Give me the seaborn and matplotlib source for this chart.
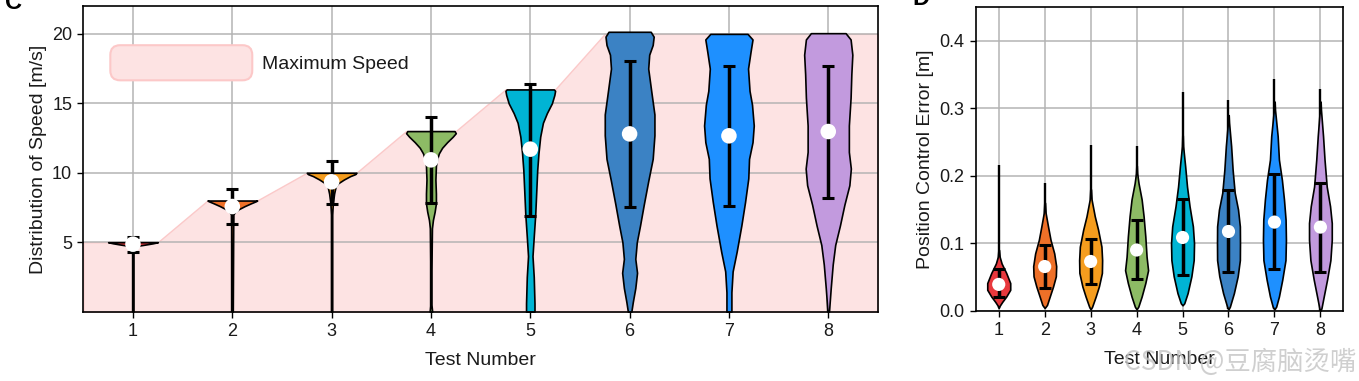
import matplotlib
matplotlib.use('Agg')
import matplotlib.pyplot as plt
import seaborn as sns
import numpy as np
from matplotlib.patches import Patch, FancyBboxPatch
from matplotlib.legend_handler import HandlerPatch

test_numbers = [1, 2, 3, 4, 5, 6, 7, 8]
violin_colors = ['#e8383d', '#ee7028', '#f59d1e', '#8dbb65',
                 '#00b4d4', '#3b82c4', '#1e90ff', '#c29ade']

# Panel C: speed distribution
max_speed = [5, 8, 10, 13, 16, 20, 20, 20]
speed_mean = [4.86, 7.57, 9.35, 10.93, 11.7, 12.8, 12.66, 12.97]
speed_upper = [5.38, 8.82, 10.84, 14.05, 16.4, 18.02, 17.71, 17.66]
speed_lower = [4.28, 6.34, 7.78, 7.81, 6.92, 7.52, 7.61, 8.21]
# density profiles (level, relative width)
speed_levels = [
    [0.0, 4.5, 4.65, 4.76, 4.83, 4.92, 4.98, 5.0],
    [0.0, 7.0, 7.2, 7.37, 7.6, 7.8, 7.95, 8.0],
    [0.0, 7.0, 7.8, 8.5, 9.0, 9.23, 9.52, 9.76, 9.9, 10.0],
    [0.0, 0.5, 3.0, 6.0, 6.6, 7.2, 7.8, 8.5, 9.5, 10.5, 11.0, 11.4, 11.8, 12.2, 12.6, 12.85, 13.0],
    [0.0, 0.6, 2.5, 4.0, 5.4, 7.0, 9.0, 10.2, 11.4, 12.6, 13.6, 14.3, 15.0, 15.6, 15.9, 16.0],
    [0.0, 0.7, 1.7, 2.8, 3.8, 5.0, 6.2, 7.7, 9.4, 11.0, 12.7, 14.2, 15.9, 17.5, 18.5, 19.2, 19.8, 20.15],
    [0.0, 1.4, 2.9, 4.3, 6.2, 7.9, 9.6, 11.0, 12.2, 13.4, 14.9, 15.9, 17.5, 18.7, 19.6, 20.0],
    [0.0, 1.7, 3.4, 4.8, 6.2, 7.7, 9.1, 10.3, 11.5, 13.4, 15.4, 17.1, 18.5, 19.6, 20.05],
]
speed_widths = [
    [0.02, 0.02, 0.1, 0.25, 0.5, 0.8, 0.95, 1.0],
    [0.02, 0.04, 0.12, 0.25, 0.5, 0.75, 0.95, 1.0],
    [0.02, 0.02, 0.05, 0.1, 0.16, 0.25, 0.5, 0.75, 0.95, 1.0],
    [0.05, 0.02, 0.02, 0.04, 0.08, 0.15, 0.2, 0.2, 0.18, 0.2, 0.25, 0.32, 0.45, 0.65, 0.88, 1.0, 0.95],
    [0.17, 0.17, 0.14, 0.09, 0.14, 0.2, 0.25, 0.28, 0.33, 0.4, 0.51, 0.67, 0.87, 0.97, 1.0, 0.95],
    [0.07, 0.13, 0.23, 0.3, 0.23, 0.29, 0.42, 0.57, 0.75, 0.93, 1.0, 1.0, 0.87, 0.75, 0.79, 0.93, 0.97, 0.85],
    [0.1, 0.1, 0.15, 0.31, 0.5, 0.65, 0.78, 0.81, 0.95, 1.0, 0.93, 0.83, 0.77, 0.87, 0.95, 0.75],
    [0.03, 0.1, 0.18, 0.28, 0.47, 0.65, 0.85, 0.91, 0.83, 0.83, 0.9, 0.93, 0.97, 0.9, 0.7],
]

# Panel D: position control error
error_mean = [0.039, 0.0655, 0.073, 0.090, 0.1086, 0.1175, 0.1314, 0.124]
error_upper = [0.0615, 0.0967, 0.106, 0.134, 0.1656, 0.1785, 0.2028, 0.1894]
error_lower = [0.0208, 0.0342, 0.0397, 0.0467, 0.053, 0.057, 0.0615, 0.058]
error_max = [0.216, 0.19, 0.245, 0.244, 0.324, 0.313, 0.343, 0.329]
error_levels = [
    [0.004, 0.007, 0.013, 0.021, 0.031, 0.041, 0.056, 0.07, 0.08, 0.09],
    [0.004, 0.0085, 0.021, 0.036, 0.051, 0.066, 0.085, 0.105, 0.125, 0.145, 0.16],
    [0.002, 0.006, 0.021, 0.036, 0.056, 0.075, 0.095, 0.12, 0.14, 0.165, 0.18],
    [0.002, 0.006, 0.021, 0.041, 0.06, 0.08, 0.11, 0.14, 0.165, 0.189, 0.204, 0.215],
    [0.008, 0.011, 0.026, 0.051, 0.075, 0.1, 0.125, 0.155, 0.184, 0.214, 0.244, 0.26],
    [0.002, 0.006, 0.026, 0.051, 0.075, 0.1, 0.125, 0.15, 0.175, 0.209, 0.244, 0.279, 0.29],
    [0.002, 0.006, 0.021, 0.046, 0.075, 0.105, 0.135, 0.165, 0.194, 0.224, 0.259, 0.298, 0.31],
    [0.0, 0.0036, 0.021, 0.046, 0.075, 0.105, 0.13, 0.155, 0.184, 0.224, 0.259, 0.298, 0.31],
]
error_widths = [
    [0.0, 0.07, 0.3, 0.65, 1.0, 1.0, 0.65, 0.25, 0.08, 0.03],
    [0.0, 0.2, 0.44, 0.73, 0.97, 1.0, 0.83, 0.51, 0.29, 0.08, 0.03],
    [0.0, 0.13, 0.44, 0.72, 0.98, 1.0, 0.94, 0.65, 0.36, 0.08, 0.03],
    [0.0, 0.15, 0.44, 0.76, 1.0, 0.87, 0.76, 0.61, 0.44, 0.17, 0.05, 0.02],
    [0.0, 0.15, 0.44, 0.77, 0.97, 1.0, 0.9, 0.61, 0.39, 0.23, 0.05, 0.02],
    [0.0, 0.12, 0.47, 0.8, 0.99, 1.0, 0.99, 0.83, 0.54, 0.36, 0.23, 0.05, 0.02],
    [0.0, 0.15, 0.39, 0.68, 0.96, 1.0, 0.97, 0.83, 0.65, 0.39, 0.28, 0.05, 0.02],
    [0.0, 0.09, 0.29, 0.58, 0.87, 0.99, 0.99, 0.84, 0.55, 0.36, 0.23, 0.05, 0.02],
]

HALF = 0.25
TEXT = '#1a1a1a'

sns.set_theme(style='whitegrid')
plt.rcParams['font.family'] = ['Liberation Sans', 'DejaVu Sans']
plt.rcParams['font.size'] = 14


def style_axes(ax):
    ax.set_facecolor('white')
    for s in ax.spines.values():
        s.set_color('black')
        s.set_linewidth(1.2)
    ax.grid(True, color='#b4b4b4', linewidth=1.1)
    ax.set_axisbelow(True)
    ax.tick_params(axis='both', which='both', direction='out', length=4, width=1,
                   color='black', labelsize=13, labelcolor=TEXT, bottom=True, left=True,
                   pad=4)
    ax.set_xlim(0.5, 8.5)
    ax.set_xticks(test_numbers)


def draw_violins(ax, levels, widths, means, lower, upper, dot_size, vmax=None):
    for i, x in enumerate(test_numbers):
        y = np.array(levels[i])
        w = HALF * np.array(widths[i])
        top = y.max() if vmax is None else vmax[i]
        ax.vlines(x, y.min(), top, color='black', lw=1.7, zorder=1.5)
        ax.fill_betweenx(y, x - w, x + w, facecolor=violin_colors[i],
                         edgecolor='black', linewidth=1.2, zorder=2)
    ax.errorbar(test_numbers, means,
                yerr=[np.array(means) - np.array(lower), np.array(upper) - np.array(means)],
                fmt='none', ecolor='black', elinewidth=2.5, capsize=4.5, capthick=2.2, zorder=3)
    sns.scatterplot(x=test_numbers, y=means, ax=ax, color='white', s=dot_size,
                    edgecolor='none', zorder=4, legend=False)


def rounded_box(legend, orig_handle, xdescent, ydescent, width, height, fontsize):
    return FancyBboxPatch((-xdescent, -ydescent), width, height,
                          boxstyle='round,pad=0,rounding_size=7')


fig = plt.figure(figsize=(13.59, 3.81), dpi=100)
ax_c = fig.add_axes([0.0613, 0.182, 0.5847, 0.802])
ax_d = fig.add_axes([0.718, 0.1845, 0.2705, 0.7965])

# Panel C
style_axes(ax_c)
edges_x = [0.5]
edges_y = [max_speed[0]]
for x, v in zip(test_numbers, max_speed):
    edges_x += [x - HALF, x + HALF]
    edges_y += [v, v]
edges_x.append(8.5)
edges_y.append(max_speed[-1])
ax_c.fill_between(edges_x, 0, edges_y, facecolor='#fde3e3', edgecolor='#fbc9c9',
                  linewidth=1.0, zorder=0.2)
draw_violins(ax_c, speed_levels, speed_widths, speed_mean, speed_lower, speed_upper, 125)
ax_c.set_ylim(0, 22)
ax_c.set_yticks([5, 10, 15, 20])
ax_c.set_xlabel('Test Number', fontsize=14, color=TEXT, labelpad=9)
ax_c.set_ylabel('Distribution of Speed [m/s]', fontsize=14, color=TEXT)

proxy = Patch(facecolor='#fde3e3', edgecolor='#fcc8c8', linewidth=1.5, label='Maximum Speed')
ax_c.legend(handles=[proxy], loc='upper left', bbox_to_anchor=(0.034, 0.872),
            frameon=False, borderpad=0, borderaxespad=0, handlelength=7.3,
            handleheight=2.4, handletextpad=0.5, fontsize=14, labelcolor=TEXT,
            handler_map={Patch: HandlerPatch(patch_func=rounded_box)})

# Panel D
style_axes(ax_d)
draw_violins(ax_d, error_levels, error_widths, error_mean, error_lower, error_upper, 90,
             vmax=error_max)
ax_d.set_ylim(0, 0.45)
ax_d.set_yticks([0.0, 0.1, 0.2, 0.3, 0.4])
ax_d.set_xlabel('Test Number', fontsize=14, color=TEXT, labelpad=9)
ax_d.set_ylabel('Position Control Error [m]', fontsize=14, color=TEXT)

# panel letters (cut off at the top in the original)
fig.text(0.004, 0.976, 'C', fontsize=17, fontweight='bold', color='black')
fig.text(0.671, 0.987, 'D', fontsize=17, fontweight='bold', color='black')
fig.text(0.998, 0.03, 'CSDN @豆腐脑烫嘴', fontsize=19, color='#c4c4c4', alpha=0.8,
         ha='right', family=['Noto Sans CJK SC', 'DejaVu Sans'])

fig.savefig('out.png', dpi=100)
